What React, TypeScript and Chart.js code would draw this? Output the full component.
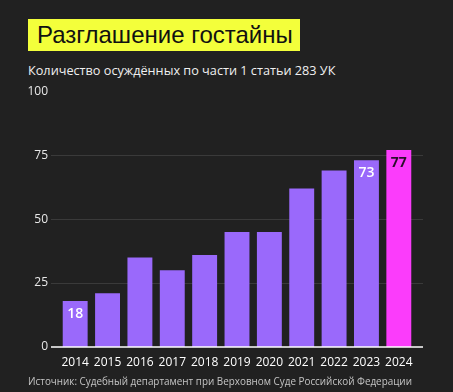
import React, { useEffect, useRef } from "react";
import { Chart, registerables } from "chart.js";

Chart.register(...registerables);

const years = ["2014", "2015", "2016", "2017", "2018", "2019", "2020", "2021", "2022", "2023", "2024"];
const convicted = [18, 21, 35, 30, 36, 45, 45, 62, 69, 73, 77];
const labelledIndexes = [0, 9, 10];
const yTicks = [0, 25, 50, 75, 100];
const gridValues = [25, 50, 75];

const PURPLE = "#9a69fb";
const MAGENTA = "#fb3cfb";
const BG = "#212121";
const FONT = "'Open Sans', 'Noto Sans', sans-serif";
const EXTEND = 8;

const gridAndBase = {
  id: "gridAndBase",
  beforeDatasetsDraw(chart: any) {
    const ctx = chart.ctx;
    const { left, right } = chart.chartArea;
    const y = chart.scales.y;
    ctx.save();
    ctx.strokeStyle = "#3a3a3a";
    ctx.lineWidth = 1;
    gridValues.forEach((v) => {
      const py = Math.round(y.getPixelForValue(v)) + 0.5;
      ctx.beginPath();
      ctx.moveTo(left - EXTEND, py);
      ctx.lineTo(right + EXTEND, py);
      ctx.stroke();
    });
    ctx.restore();
  },
  afterDatasetsDraw(chart: any) {
    const ctx = chart.ctx;
    const { left, right } = chart.chartArea;
    const py = chart.scales.y.getPixelForValue(0);
    ctx.save();
    ctx.strokeStyle = "#ffffff";
    ctx.lineWidth = 1.5;
    ctx.beginPath();
    ctx.moveTo(left - EXTEND, py);
    ctx.lineTo(right + EXTEND, py);
    ctx.stroke();

    const meta = chart.getDatasetMeta(0);
    ctx.textAlign = "center";
    ctx.textBaseline = "middle";
    labelledIndexes.forEach((i) => {
      const el = meta.data[i];
      const last = i === convicted.length - 1;
      ctx.font = `${last ? 700 : 600} 14px ${FONT}`;
      ctx.fillStyle = last ? "#2a0f2a" : "#ffffff";
      ctx.fillText(String(convicted[i]), el.x, el.y + 13);
    });
    ctx.restore();
  },
};

export default function App() {
  const ref = useRef<HTMLCanvasElement | null>(null);
  useEffect(() => {
    document.body.style.margin = "0";
    document.body.style.background = BG;
    const chart = new Chart(ref.current!, {
      type: "bar",
      data: {
        labels: years,
        datasets: [
          {
            data: convicted,
            backgroundColor: convicted.map((_, i) => (i === convicted.length - 1 ? MAGENTA : PURPLE)),
            barPercentage: 0.77,
            categoryPercentage: 1,
          },
        ],
      },
      options: {
        animation: false,
        responsive: false,
        maintainAspectRatio: false,
        layout: { padding: { top: 2, right: 38, bottom: 3, left: 0 } },
        plugins: { legend: { display: false }, tooltip: { enabled: false } },
        scales: {
          x: {
            grid: { display: false, drawTicks: false },
            border: { display: false },
            ticks: { color: "#ffffff", font: { family: FONT, size: 12 }, padding: 8, maxRotation: 0, autoSkip: false },
            afterFit: (s: any) => { s.height = 30; },
          },
          y: {
            min: 0,
            max: 100,
            afterBuildTicks: (s: any) => { s.ticks = yTicks.map((v) => ({ value: v })); },
            grid: { display: false, drawTicks: false },
            border: { display: false },
            ticks: { color: "#e8e8e8", font: { family: FONT, size: 12 }, padding: 11 },
            afterFit: (s: any) => { s.width = 59; },
          },
        },
      },
      plugins: [gridAndBase],
    });
    return () => chart.destroy();
  }, []);

  return (
    <div style={{ position: "relative", width: 453, height: 392, background: BG, overflow: "hidden", fontFamily: FONT }}>
      <div
        style={{
          position: "absolute", left: 28, top: 19, width: 272, height: 32, background: "#f3ff3b",
          color: "#111", fontFamily: "'Liberation Sans', Arial, sans-serif", fontSize: 24, lineHeight: "32px",
          paddingLeft: 9, boxSizing: "border-box", whiteSpace: "nowrap",
        }}
      >
        Разглашение гостайны
      </div>
      <div style={{ position: "absolute", left: 28, top: 61, color: "#f0f0f0", fontSize: 12.7, lineHeight: "18px", whiteSpace: "nowrap" }}>
        Количество осуждённых по части 1 статьи 283 УК
      </div>
      <canvas ref={ref} width={453} height={307} style={{ position: "absolute", left: 0, top: 73, width: 453, height: 307 }} />
      <div style={{ position: "absolute", left: 28, top: 373, color: "#c4c4c4", fontSize: 9.9, lineHeight: "16px", whiteSpace: "nowrap" }}>
        Источник: Судебный департамент при Верховном Суде Российской Федерации
      </div>
    </div>
  );
}
